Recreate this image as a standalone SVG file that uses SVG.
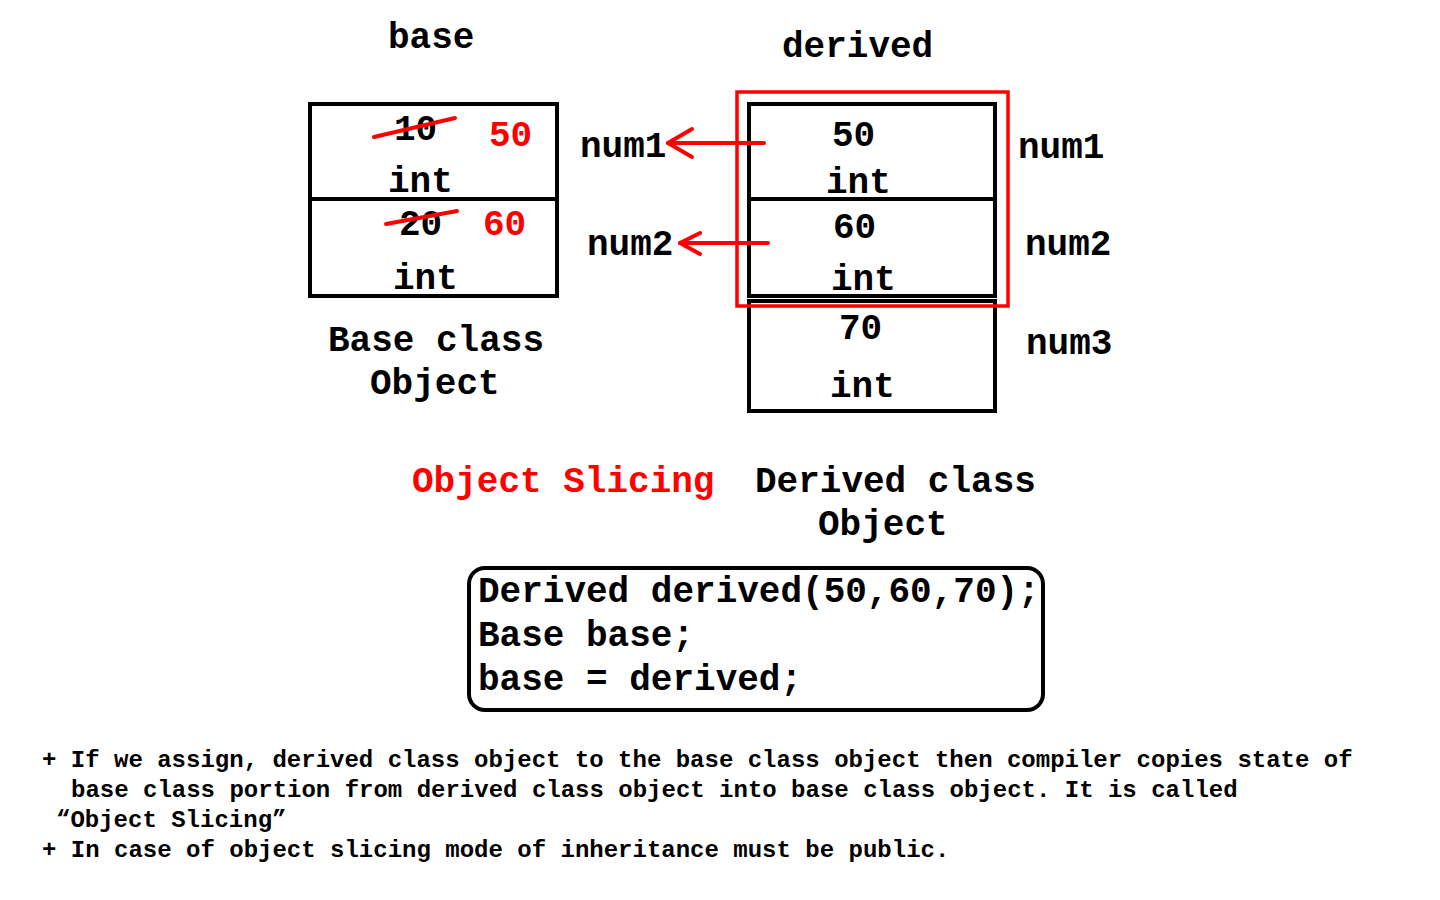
<svg xmlns="http://www.w3.org/2000/svg" width="1440" height="900" viewBox="0 0 1440 900">
  <style>
    text { font-family: "Liberation Mono", "Courier New", monospace; font-weight: bold; fill: #000; }
    .t { font-size: 36px; }
    .note { font-size: 24px; }
    .red { fill: #ff0000; }
    .box { fill: none; stroke: #000; stroke-width: 4; }
    .rbox { fill: none; stroke: #ff0000; stroke-width: 3.5; }
    .strike { stroke: #ff0000; stroke-width: 4; stroke-linecap: round; }
    .arrow { fill: none; stroke: #ff0000; stroke-width: 4; stroke-linecap: round; stroke-linejoin: round; }
  </style>
  <rect width="1440" height="900" fill="#fff"/>

  <g id="title-base"><text class="t" x="388" y="48">base</text></g>
  <g id="title-derived"><text class="t" x="782" y="57">derived</text></g>

  <g id="base-object">
    <rect class="box" x="310" y="104" width="247" height="192"/>
    <line class="box" x1="310" y1="199" x2="557" y2="199"/>
    <text class="t" x="394" y="140">10</text>
    <line class="strike" x1="374" y1="137" x2="455" y2="118"/>
    <text class="t red" x="489" y="146">50</text>
    <text class="t" x="388" y="192">int</text>
    <text class="t" x="399" y="235">20</text>
    <line class="strike" x1="386" y1="224" x2="457" y2="211"/>
    <text class="t red" x="483" y="235">60</text>
    <text class="t" x="393" y="289">int</text>
  </g>

  <g id="base-caption">
    <text class="t" x="328" y="351">Base class</text>
    <text class="t" x="370" y="394">Object</text>
  </g>

  <g id="derived-object">
    <rect class="box" x="749" y="104" width="246" height="192"/>
    <line class="box" x1="749" y1="199" x2="995" y2="199"/>
    <rect class="box" x="749" y="301" width="246" height="110"/>
    <rect class="rbox" x="737" y="92" width="271" height="214"/>
    <text class="t" x="832" y="146">50</text>
    <text class="t" x="826" y="193">int</text>
    <text class="t" x="833" y="238">60</text>
    <text class="t" x="831" y="290">int</text>
    <text class="t" x="839" y="339">70</text>
    <text class="t" x="830" y="397">int</text>
  </g>

  <g id="labels">
    <text class="t" x="580" y="157">num1</text>
    <text class="t" x="587" y="255">num2</text>
    <text class="t" x="1018" y="158">num1</text>
    <text class="t" x="1025" y="255">num2</text>
    <text class="t" x="1026" y="354">num3</text>
  </g>

  <g id="connectors">
    <line class="arrow" x1="764" y1="143" x2="668" y2="143"/>
    <polyline class="arrow" points="692,129 668,143 692,157"/>
    <line class="arrow" x1="768" y1="243" x2="680" y2="243"/>
    <polyline class="arrow" points="700,233 680,243 700,254"/>
  </g>

  <g id="slicing-caption">
    <text class="t red" x="412" y="492">Object Slicing</text>
    <text class="t" x="755" y="492">Derived class</text>
    <text class="t" x="818" y="535">Object</text>
  </g>

  <g id="code">
    <rect class="box" x="469" y="568" width="574" height="142" rx="16" ry="16"/>
    <text class="t" x="478" y="602">Derived derived(50,60,70);</text>
    <text class="t" x="478" y="646">Base base;</text>
    <text class="t" x="478" y="690">base = derived;</text>
  </g>

  <g id="notes">
    <text class="note" x="42" y="767">+ If we assign, derived class object to the base class object then compiler copies state of</text>
    <text class="note" x="71" y="797">base class portion from derived class object into base class object. It is called</text>
    <text class="note" x="56" y="827">“Object Slicing”</text>
    <text class="note" x="42" y="857">+ In case of object slicing mode of inheritance must be public.</text>
  </g>
</svg>
